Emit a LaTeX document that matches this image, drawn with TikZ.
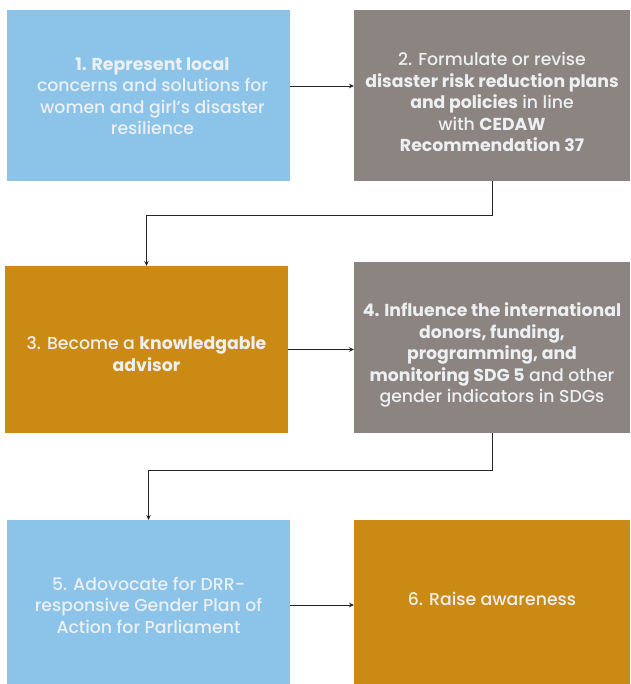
\documentclass[tikz,border=0pt]{standalone}
\usepackage{fontspec}
\setmainfont{Poppins}[UprightFont={* Medium}, BoldFont={* Bold}]
\usetikzlibrary{arrows.meta}
\definecolor{boxblue}{RGB}{139,195,233}
\definecolor{boxgrey}{RGB}{140,132,128}
\definecolor{boxgold}{RGB}{203,138,20}
\definecolor{txtwhite}{RGB}{236,240,242}

\begin{document}
\begin{tikzpicture}[x=1pt, y=-1pt,
    box/.style={rectangle, inner sep=0pt, outer sep=0pt},
    wide/.style={box, minimum width=283pt},
    narrow/.style={box, minimum width=276pt},
    txt/.style={text=txtwhite, align=center, inner sep=0pt, font=\fontsize{17.3}{21.5}\selectfont},
    arr/.style={-{Stealth[length=5pt, width=4.5pt]}, line width=0.9pt, draw=black!85}]

    \useasboundingbox (0,0) rectangle (630,684);
    % Boxes
    \node[wide, fill=boxblue, minimum height=171pt] (b1) at (148.5, 95.5) {};
    \node[narrow, fill=boxgrey, minimum height=171pt] (b2) at (492, 95.5) {};
    \node[wide, fill=boxgold, minimum height=167pt] (b3) at (146.5, 349.5) {};
    \node[narrow, fill=boxgrey, minimum height=171pt] (b4) at (492, 347.5) {};
    \node[wide, fill=boxblue, minimum height=164pt] (b5) at (148.5, 602) {};
    \node[narrow, fill=boxgold, minimum height=164pt] (b6) at (492, 602) {};
    % Texts
    \node[txt] (t1) at ([xshift=4pt, yshift=-0.5pt]b1) {\textbf{1. Represent local}\\concerns and solutions for\\women and girl's disaster\\resilience};
    \node[txt] (t2) at ([yshift=-6.5pt]b2) {2. Formulate or revise\\\textbf{disaster risk reduction plans}\\\textbf{and policies} in line\\with \textbf{CEDAW}\\\textbf{Recommendation 37}};
    \node[txt] (t3) at ([yshift=-4.5pt]b3) {3. Become a \textbf{knowledgable}\\\textbf{advisor}};
    \node[txt] (t4) at ([yshift=-7.5pt]b4) {\textbf{4. Influence the international}\\\textbf{donors, funding,}\\\textbf{programming, and}\\\textbf{monitoring SDG 5} and other\\gender indicators in SDGs};
    \node[txt] (t5) at ([yshift=-3pt]b5) {5. Adovocate for DRR-\\responsive Gender Plan of\\Action for Parliament};
    \node[txt] (t6) at ([yshift=3pt]b6) {6. Raise awareness};
    % Arrows
    \draw[arr] ([yshift=9.5pt]b1.east) -- ([yshift=9.5pt]b2.west); % 1 to 2
    \draw[arr] (b2.south) -- ++(0,34) -| (b3.north); % 2 to 3
    \draw[arr] (b3.east) -- (b3.east -| b4.west); % 3 to 4
    \draw[arr] (b4.south) -- ++(0,37) -| (b5.north); % 4 to 5
    \draw[arr] ([yshift=-3pt]b5.east) -- ([yshift=-3pt]b5.east -| b6.west); % 5 to 6
\end{tikzpicture}
\end{document}
